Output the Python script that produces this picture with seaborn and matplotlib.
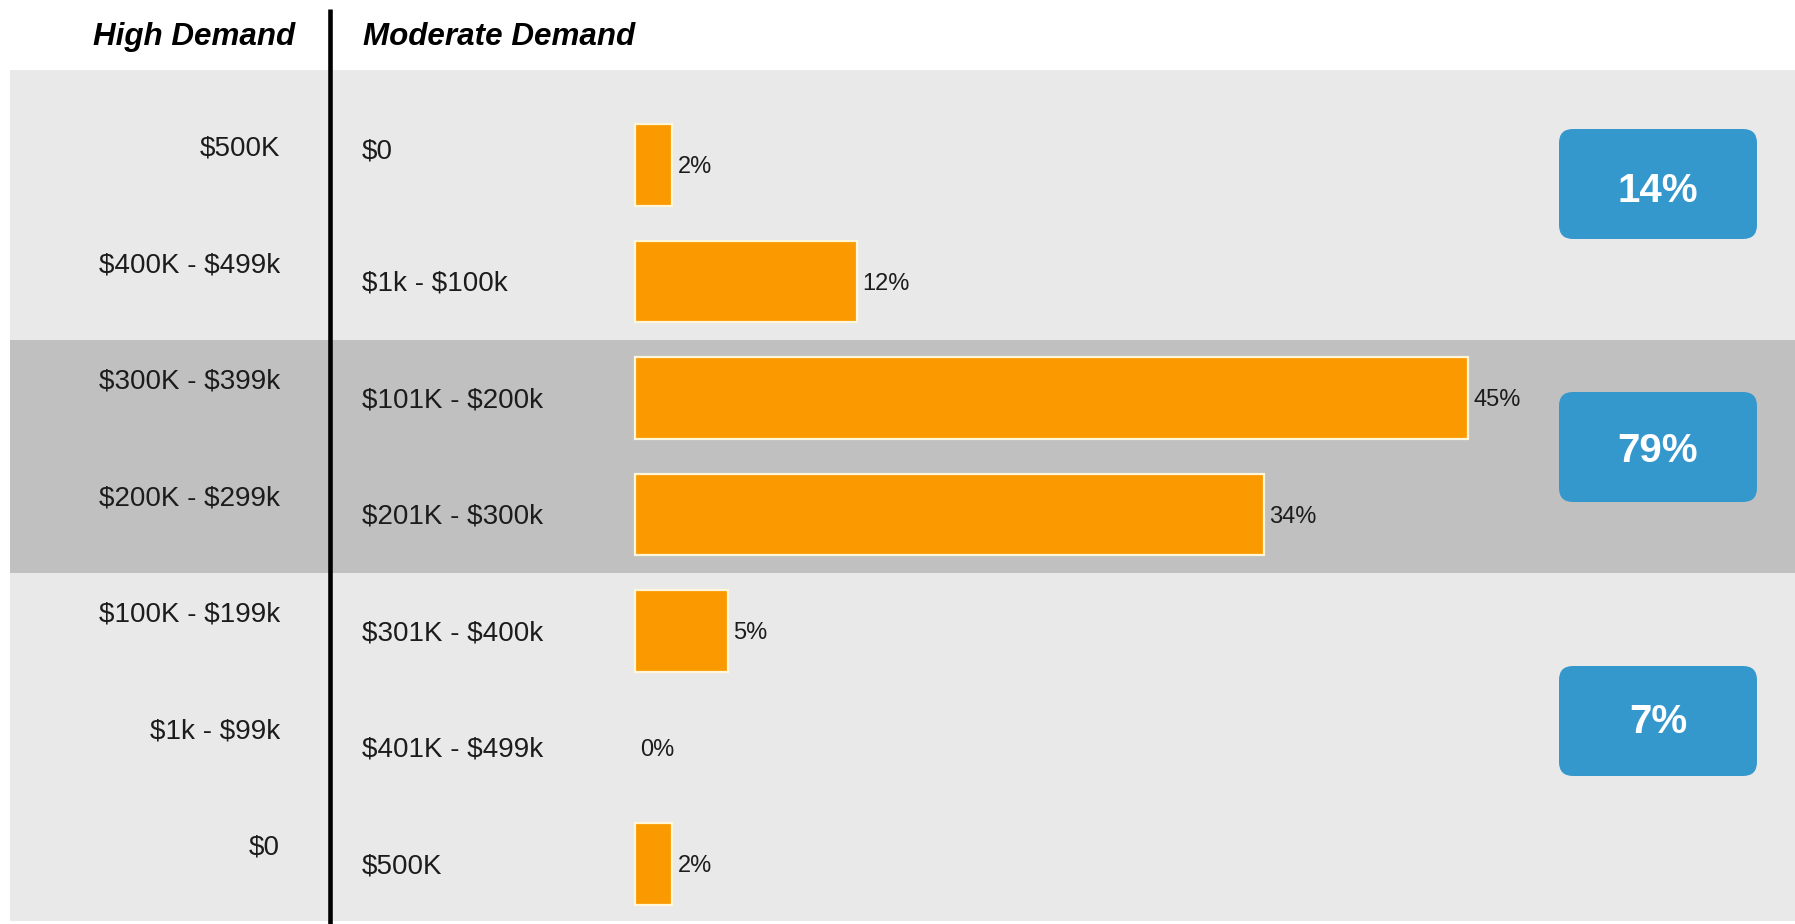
import matplotlib
matplotlib.use("Agg")
import matplotlib.pyplot as plt
from matplotlib.patches import Rectangle, FancyBboxPatch
from matplotlib.transforms import blended_transform_factory
import pandas as pd
import seaborn as sns

# ---- data -------------------------------------------------------------
high_demand = ["$500K", "$400K - $499k", "$300K - $399k", "$200K - $299k",
               "$100K - $199k", "$1k - $99k", "$0"]
moderate_demand = ["$0", "$1k - $100k", "$101K - $200k", "$201K - $300k",
                   "$301K - $400k", "$401K - $499k", "$500K"]
share_pct = [2, 12, 45, 34, 5, 0, 2]
# rows summarised by each blue badge (start, stop)
groups = [(0, 2), (2, 4), (4, 7)]

# ---- style ------------------------------------------------------------
sns.set_theme(style="white")
plt.rcParams["font.family"] = ["Liberation Sans", "DejaVu Sans"]
plt.rcParams["text.parse_math"] = False

W, H = 1795, 924
ORANGE = "#fa9a00"
BLUE = "#3598cd"
LIGHT = "#e9e9e9"
DARK = "#c0c0c0"
INK = "#1c1c1c"

fig = plt.figure(figsize=(W / 100, H / 100), dpi=100)

# layout layer in pixel units (origin top-left)
lay = fig.add_axes([0, 0, 1, 1], zorder=0)
lay.set_xlim(0, W)
lay.set_ylim(H, 0)
lay.axis("off")

# bar layer: x in percent, y in row index
ax = fig.add_axes([0, 0, 1, 1], zorder=1)
ax.patch.set_alpha(0)

df = pd.DataFrame({"bracket": moderate_demand, "share": share_pct})
sns.barplot(data=df, x="share", y="bracket", order=moderate_demand,
            orient="h", color=ORANGE, saturation=1, width=0.70,
            edgecolor="#fff6dc", linewidth=1.6, ax=ax)
# empty bars get no outline
for p in ax.patches:
    if p.get_width() == 0:
        p.set_edgecolor("none")

x0_px, px_per_pct = 635.0, 18.5
row0_px, row_px = 165.0, 116.5
ax.set_xlim(-x0_px / px_per_pct, (W - x0_px) / px_per_pct)
ax.set_ylim((H - row0_px) / row_px, -row0_px / row_px)
ax.axis("off")

to_px_y = lambda r: row0_px + r * row_px

# background bands
lay.add_patch(Rectangle((10, 70), W - 10, to_px_y(6.49) - 70,
                        color=LIGHT, zorder=0, lw=0))
lay.add_patch(Rectangle((10, to_px_y(1.5)), W - 10,
                        to_px_y(3.5) - to_px_y(1.5),
                        color=DARK, zorder=0.5, lw=0))

# divider
lay.plot([330, 330], [9, H], color="black", lw=3.3, solid_capstyle="butt",
         zorder=2)

# headers
hdr = dict(fontsize=22.6, fontweight="bold", fontstyle="italic",
           color="black", va="center")
lay.text(93, 37, "High Demand", ha="left", **hdr)
lay.text(363, 37, "Moderate Demand", ha="left", **hdr)

# row labels (x in pixels, y in rows)
mix = blended_transform_factory(lay.transData, ax.transData)
for i, (hi, mo) in enumerate(zip(high_demand, moderate_demand)):
    ax.text(280, i - 0.14, hi, transform=mix, ha="right", va="center",
            fontsize=20, color=INK)
    ax.text(362, i + (-0.12 if i == 0 else 0.02), mo, transform=mix,
            ha="left", va="center", fontsize=20, color=INK)

# value labels next to each bar
for i, v in enumerate(share_pct):
    ax.text(v + 0.3, i + 0.02, f"{v}%", ha="left", va="center",
            fontsize=17, color=INK)

# group badges
badge_cy = [184, 447, 721]
text_dy = [7, 4, 1]
for (a, b), cy, dy in zip(groups, badge_cy, text_dy):
    total = sum(share_pct[a:b])
    lay.add_patch(FancyBboxPatch((1559, cy - 55), 198, 110,
                                 boxstyle="round,pad=0,rounding_size=14",
                                 fc=BLUE, ec="none", zorder=3))
    lay.text(1658, cy + dy, f"{total}%", ha="center", va="center",
             fontsize=29, fontweight="bold", color="white", zorder=4)

fig.savefig("out.png", dpi=100, facecolor="white")
